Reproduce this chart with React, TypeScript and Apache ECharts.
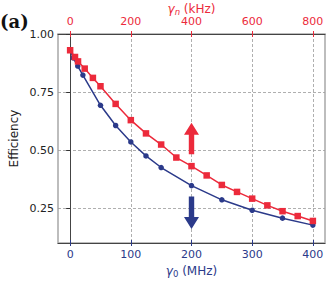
import React, { useEffect, useRef } from "react";
import * as echarts from "echarts";

// Blue series: efficiency vs gamma_0 (MHz), bottom axis
const blueX = [0, 5, 12.5, 21, 50, 75, 100, 125, 150, 200, 250, 300, 350, 400];
const blueY = [0.93, 0.897, 0.862, 0.823, 0.693, 0.606, 0.535, 0.475, 0.425, 0.347, 0.286, 0.241, 0.207, 0.177];

// Red series: efficiency vs gamma_n (kHz), top axis
const redX = [0, 16, 26, 48, 75, 100, 150, 200, 250, 300, 350, 400, 450, 500, 550, 600, 650, 700, 750, 800];
const redY = [0.93, 0.901, 0.882, 0.851, 0.811, 0.775, 0.699, 0.629, 0.572, 0.524, 0.468, 0.431, 0.391, 0.35, 0.32, 0.291, 0.262, 0.237, 0.216, 0.195];

const bottomTicks = [0, 100, 200, 300, 400];
const topTicks = [0, 200, 400, 600, 800];
const yTicks = [0.25, 0.5, 0.75, 1.0];

// Arrow annotations (in bottom-axis data units)
const arrowX = 200;
const redArrow = [0.482, 0.618];
const blueArrow = [0.30, 0.16];

const RED = "#ec2a3b";
const BLUE = "#2b3a8a";
const FONT = "DejaVu Sans";

export default function App() {
  const ref = useRef<HTMLDivElement>(null);
  useEffect(() => {
    document.body.style.margin = "0";
    const chart = echarts.init(ref.current!, undefined, { renderer: "svg" });
    const gridLine = { show: true, lineStyle: { color: "#9a9a9a", type: [3, 2] as any, width: 0.8 } };
    chart.setOption({
      animation: false,
      backgroundColor: "#fff",
      textStyle: { fontFamily: FONT },
      grid: {
        left: 58, right: 8, top: 34, bottom: 39, show: true, borderColor: "#a8a8a8", borderWidth: 1.5,
        backgroundColor: "transparent", containLabel: false, outerBoundsMode: "none",
      } as any,
      xAxis: [
        {
          type: "value", position: "bottom", min: -20, max: 420,
          axisLine: { show: true, lineStyle: { color: "#444", width: 1 } },
          axisTick: { show: true, inside: false, length: 3, customValues: bottomTicks, lineStyle: { color: BLUE, width: 1 } },
          axisLabel: { customValues: bottomTicks, color: BLUE, fontSize: 11, margin: 6, fontFamily: FONT },
          splitLine: gridLine,
          name: "{gi|γ}{s|0}{g| (MHz)}",
          nameLocation: "middle", nameGap: 21, nameMoveOverlap: false,
          nameTextStyle: {
            rich: {
              gi: { fontSize: 12, fontStyle: "italic", color: BLUE, lineHeight: 14, fontFamily: FONT },
              g: { fontSize: 12, color: BLUE, lineHeight: 14, fontFamily: FONT },
              s: { fontSize: 8.5, color: BLUE, lineHeight: 8, verticalAlign: "bottom", fontFamily: FONT },
            },
          },
        },
        {
          type: "value", position: "top", min: -40, max: 840,
          axisLine: { show: true, lineStyle: { color: "#444", width: 1 } },
          axisTick: { show: true, inside: false, length: 3, customValues: topTicks, lineStyle: { color: RED, width: 1 } },
          axisLabel: { customValues: topTicks, color: RED, fontSize: 11, margin: 7, fontFamily: FONT },
          splitLine: { show: false },
          name: "{gi|γ}{s|n}{g| (kHz)}",
          nameLocation: "middle", nameGap: 18, nameMoveOverlap: false,
          nameTextStyle: {
            rich: {
              gi: { fontSize: 12, fontStyle: "italic", color: RED, lineHeight: 14, fontFamily: FONT },
              g: { fontSize: 12, color: RED, lineHeight: 14, fontFamily: FONT },
              s: { fontSize: 8.5, fontStyle: "italic", color: RED, lineHeight: 8, verticalAlign: "bottom", fontFamily: FONT },
            },
          },
        },
        {
          type: "value", position: "bottom", min: -20, max: 420,
          axisLine: { show: false },
          axisTick: { show: true, inside: true, length: 3, customValues: bottomTicks, lineStyle: { color: BLUE, width: 1 } },
          axisLabel: { show: false },
          splitLine: { show: false },
        },
        {
          type: "value", position: "top", min: -40, max: 840,
          axisLine: { show: false },
          axisTick: { show: true, inside: true, length: 3, customValues: topTicks, lineStyle: { color: RED, width: 1 } },
          axisLabel: { show: false },
          splitLine: { show: false },
        },
      ],
      yAxis: {
        type: "value", min: 0.1, max: 1.0,
        axisLine: { show: true, lineStyle: { color: "#444", width: 1 } },
        axisTick: { show: true, length: 4, customValues: yTicks, lineStyle: { color: "#333" } },
        axisLabel: { customValues: yTicks, color: "#222", fontSize: 11, margin: 4, fontFamily: FONT, formatter: (v: number) => v.toFixed(2) },
        splitLine: gridLine,
        name: "Efficiency", nameLocation: "middle", nameGap: 38, nameMoveOverlap: false,
        nameTextStyle: { color: "#222", fontSize: 12, fontFamily: FONT },
      },
      series: [
        {
          type: "line", xAxisIndex: 0, yAxisIndex: 0,
          data: blueX.map((x, i) => [x, blueY[i]]),
          symbol: "circle", symbolSize: 5.5,
          lineStyle: { color: BLUE, width: 1.5 },
          itemStyle: { color: BLUE },
          z: 3,
        },
        {
          type: "line", xAxisIndex: 1, yAxisIndex: 0,
          data: redX.map((x, i) => [x, redY[i]]),
          symbol: "rect", symbolSize: 6.5,
          lineStyle: { color: RED, width: 1.5 },
          itemStyle: { color: RED },
          z: 4,
        },
      ],
    } as any);

    const arrow = (from: number, to: number, color: string) => {
      const a = chart.convertToPixel({ xAxisIndex: 0, yAxisIndex: 0 } as any, [arrowX, from]) as number[];
      const b = chart.convertToPixel({ xAxisIndex: 0, yAxisIndex: 0 } as any, [arrowX, to]) as number[];
      const dir = b[1] > a[1] ? 1 : -1;
      const headLen = 12, hw = 7.5, sw = 2.7;
      const x = a[0];
      const base = b[1] - dir * headLen;
      return {
        type: "polygon",
        shape: {
          points: [
            [x - sw, a[1]], [x + sw, a[1]], [x + sw, base], [x + hw, base],
            [x, b[1]], [x - hw, base], [x - sw, base],
          ],
        },
        style: { fill: color },
        z: 10,
      };
    };

    chart.setOption({
      graphic: [
        arrow(redArrow[0], redArrow[1], RED),
        arrow(blueArrow[0], blueArrow[1], BLUE),
        {
          type: "text", left: 0, top: 12,
          style: { text: "(a)", font: "bold 18px 'DejaVu Serif'", fill: "#111" },
        },
      ],
    });
    return () => chart.dispose();
  }, []);
  return <div ref={ref} style={{ position: "absolute", left: 0, top: 0, width: 333, height: 282 }} />;
}
